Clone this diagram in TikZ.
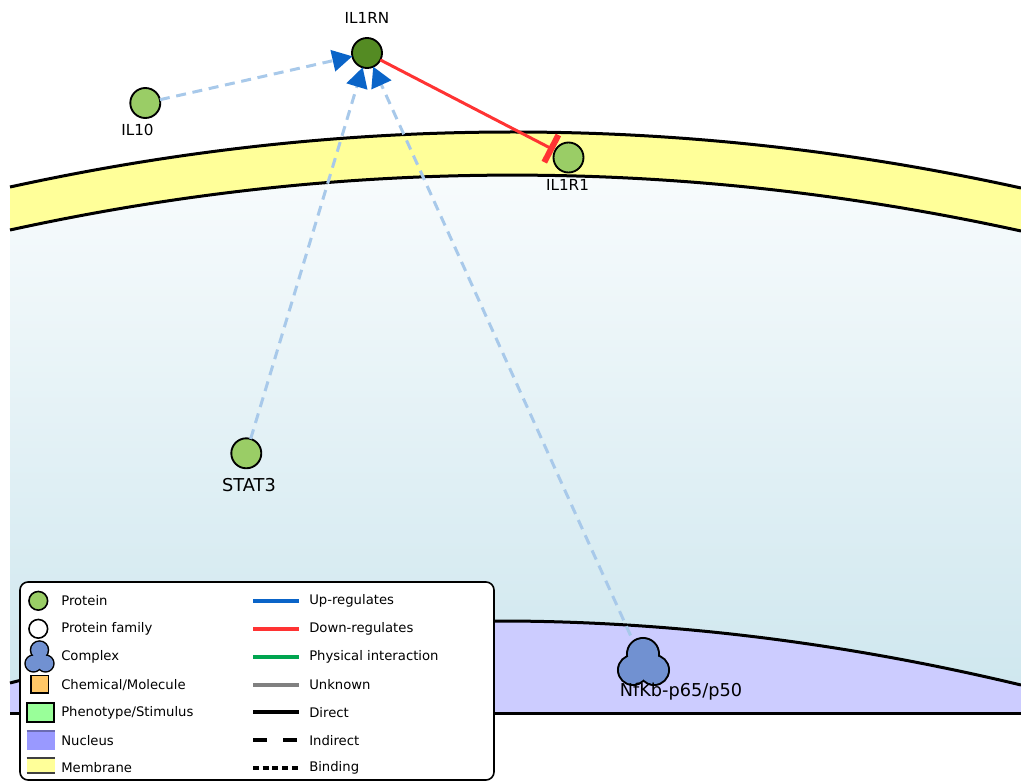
\documentclass[tikz,border=0pt]{standalone}
\usepackage{fontspec}
\setmainfont{DejaVu Sans}
\usetikzlibrary{arrows.meta}
\definecolor{protgreen}{HTML}{9ACD66}
\definecolor{darkprot}{HTML}{548B23}
\definecolor{cplx}{HTML}{7191D1}
\definecolor{upblue}{HTML}{0A64C8}
\definecolor{dashblue}{HTML}{A8C9EA}
\definecolor{downred}{HTML}{FF3333}
\definecolor{physgreen}{HTML}{00A550}
\definecolor{membfill}{HTML}{FFFF99}
\definecolor{nucfill}{HTML}{CCCCFF}
\definecolor{nuclegend}{HTML}{9999FF}
\definecolor{cytotop}{HTML}{F9FCFD}
\definecolor{cytobot}{HTML}{CDE6EE}
\definecolor{chemfill}{HTML}{FFC766}
\definecolor{phenofill}{HTML}{99FF99}
\begin{document}
\begin{tikzpicture}[x=0.75pt,y=-0.75pt,
  protein/.style={circle,draw=black,line width=1.4pt,fill=protgreen,minimum size=22.5pt,inner sep=0pt,outer sep=0pt},
  lbl/.style={font=\fontsize{11.4}{13}\selectfont,inner sep=0pt},
  biglbl/.style={font=\fontsize{13.3}{15}\selectfont,inner sep=0pt},
  legtxt/.style={font=\fontsize{9.9}{12}\selectfont,anchor=west,inner sep=0pt},
  upedge/.style={draw=dashblue,line width=2.25pt,dash pattern=on 7.5pt off 5pt,
    -{Triangle[length=15pt,width=16pt,color=upblue,fill=upblue]}},
  downedge/.style={draw=downred,line width=2.25pt,-{Bar[width=23pt,line width=4.5pt,color=downred]},shorten >=1pt},
  legline/.style={line width=3pt},
  border/.style={draw=black,line width=2.25pt}
]
\useasboundingbox (0,0) rectangle (1021,781);

% cytoplasm
\shade[top color=cytotop,bottom color=cytobot]
  (10,230) .. controls (346.7,156.3) and (683.7,157) .. (1021,231) -- (1021,713) -- (10,713) -- cycle;

% membrane
\fill[membfill] (10,187) .. controls (346.7,113.3) and (683.7,113.7) .. (1021,188)
  -- (1021,231) .. controls (683.7,157) and (346.7,156.3) .. (10,230) -- cycle;
\draw[border] (10,187) .. controls (346.7,113.3) and (683.7,113.7) .. (1021,188);
\draw[border] (10,230) .. controls (346.7,156.3) and (683.7,157) .. (1021,231);

% nucleus
\fill[nucfill] (10,683) .. controls (330,599.7) and (667,600.3) .. (1021,685) -- (1021,713) -- (10,713) -- cycle;
\draw[border] (10,683) .. controls (330,599.7) and (667,600.3) .. (1021,685);
\draw[border] (10,713) -- (1021,713);

% nodes
\node[protein,fill=darkprot] (il1rn) at (367,53) {};
\node[lbl] (il1rnl) at (367,18) {IL1RN};
\node[protein] (il10) at (145.3,103) {};
\node[lbl] (il10l) at (137.5,130) {IL10};
\node[protein] (il1r1) at (568.5,157.5) {};
\node[lbl] (il1r1l) at (567.5,185) {IL1R1};
\node[protein] (stat3) at (246.3,453.3) {};
\node[biglbl] (stat3l) at (249,485) {STAT3};

% complex
\node[circle,minimum size=45pt,inner sep=0pt] (nfkb) at (643,663) {};
\draw[line width=3pt] (643,654) circle[radius=11.25pt] (633,670) circle[radius=10.5pt] (654,670) circle[radius=10.5pt];
\fill[cplx] (643,654) circle[radius=11.25pt] (633,670) circle[radius=10.5pt] (654,670) circle[radius=10.5pt];
\node[biglbl] (nfkbl) at (681,692) {NfKb-p65/p50};

% edges
\draw[upedge] (il10) -- (il1rn);
\draw[upedge] (stat3) -- (il1rn);
\draw[upedge] (nfkb) -- (il1rn);
\draw[downedge] (il1rn) -- (il1r1);

% legend
\draw[line width=1.2pt,fill=white,rounded corners=6pt] (20,582) rectangle (494,780);
\node[protein,minimum size=14pt,line width=1.2pt] (lgprot) at (38.3,600.8) {};
\node[protein,fill=white,minimum size=14pt,line width=1.2pt] (lgfam) at (38.3,628.8) {};
\draw[line width=2.2pt] (39.5,650) circle[radius=6.2pt] (33.5,663.5) circle[radius=5.8pt] (45.5,663.5) circle[radius=5.8pt];
\fill[cplx] (39.5,650) circle[radius=6.2pt] (33.5,663.5) circle[radius=5.8pt] (45.5,663.5) circle[radius=5.8pt];
\draw[fill=chemfill,line width=1.2pt] (31,675.5) rectangle (48.3,693);
\draw[fill=phenofill,line width=1.5pt] (27,703) rectangle (54.3,721.5);
\fill[nuclegend] (26.5,731) rectangle (55,750);
\draw[line width=0.8pt,draw=nuclegend!70!black] (26.5,731) -- (55,731);
\fill[membfill] (26.5,758) rectangle (55,773);
\draw[line width=1.2pt,draw=black!75] (26.5,758) -- (55,758) (26.5,773) -- (55,773);

\node[legtxt] (t1) at (61,600.7) {Protein};
\node[legtxt] (t2) at (61,629) {Protein family};
\node[legtxt] (t3) at (61,657) {Complex};
\node[legtxt] (t4) at (61,685) {Chemical/Molecule};
\node[legtxt] (t5) at (61,712.5) {Phenotype/Stimulus};
\node[legtxt] (t6) at (61,740.3) {Nucleus};
\node[legtxt] (t7) at (61,768) {Membrane};

\draw[legline,draw=upblue] (253,600.5) -- (299,600.5);
\draw[legline,draw=downred] (253,628.5) -- (299,628.5);
\draw[legline,draw=physgreen] (253,656.5) -- (299,656.5);
\draw[legline,draw=black!50] (253,684.5) -- (299,684.5);
\draw[legline,draw=black] (253,712) -- (299,712);
\draw[legline,draw=black,dash pattern=on 10.5pt off 12pt] (253,740) -- (299,740);
\draw[legline,draw=black,dash pattern=on 4.5pt off 2.8pt] (253,767.5) -- (299,767.5);

\node[legtxt] (r1) at (309,600.7) {Up-regulates};
\node[legtxt] (r2) at (309,629) {Down-regulates};
\node[legtxt] (r3) at (309,657) {Physical interaction};
\node[legtxt] (r4) at (309,685) {Unknown};
\node[legtxt] (r5) at (309,712.5) {Direct};
\node[legtxt] (r6) at (309,740.3) {Indirect};
\node[legtxt] (r7) at (309,768) {Binding};
\end{tikzpicture}
\end{document}
